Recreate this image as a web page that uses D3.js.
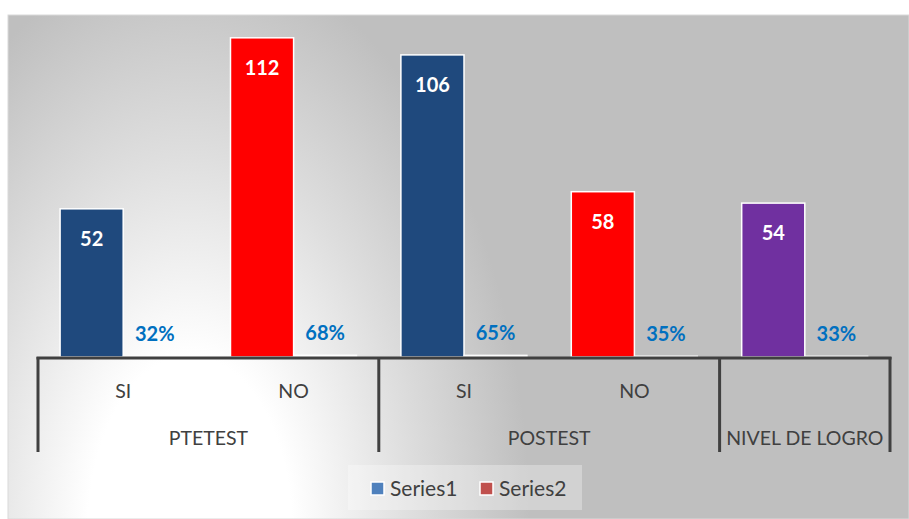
<!DOCTYPE html>
<html>
<head>
<meta charset="utf-8">
<script src="https://cdn.jsdelivr.net/npm/d3@7"></script>
<style>
  body { margin: 0; background: #fff; }
  text { font-family: Lato, "Open Sans", sans-serif; }
</style>
</head>
<body>
<div id="chart"></div>
<script>
'use strict';

// data
var groups = ['PTETEST', 'PTETEST', 'POSTEST', 'POSTEST', 'NIVEL DE LOGRO'];
var categories = ['SI', 'NO', 'SI', 'NO', ''];
var series1 = [52, 112, 106, 58, 54];
var series2 = [0.32, 0.68, 0.65, 0.35, 0.33];
var barColors = ['#1f497d', '#ff0000', '#1f497d', '#ff0000', '#7030a0'];
var seriesNames = ['Series1', 'Series2'];
var legendColors = ['#4f81bd', '#c0504d'];

var W = 909, H = 519;
var svg = d3.select('#chart').append('svg')
  .attr('width', W).attr('height', H);

// background gradient, whitish at the bottom left
var defs = svg.append('defs');
var grad = defs.append('radialGradient')
  .attr('id', 'bg')
  .attr('gradientUnits', 'userSpaceOnUse')
  .attr('cx', 0).attr('cy', 0).attr('r', 1)
  .attr('gradientTransform', 'translate(190,530) scale(340,580)');
grad.append('stop').attr('offset', 0).attr('stop-color', '#ffffff');
grad.append('stop').attr('offset', 0.3).attr('stop-color', '#ffffff');
grad.append('stop').attr('offset', 0.65).attr('stop-color', '#dedede');
grad.append('stop').attr('offset', 1).attr('stop-color', '#bfbfbf');

svg.append('rect')
  .attr('x', 8).attr('y', 15)
  .attr('width', W - 8).attr('height', H - 15)
  .attr('fill', 'url(#bg)')
  .attr('stroke', '#d9d9d9').attr('stroke-width', 1);

var idx = d3.range(categories.length);

var x = d3.scaleBand()
  .domain(idx)
  .range([38, 890])
  .padding(0);

var xs = d3.scaleBand()
  .domain(seriesNames)
  .range([0, x.bandwidth()])
  .paddingInner(0)
  .paddingOuter(0.35);

var y = d3.scaleLinear()
  .domain([0, 120])
  .range([357, 15]);

// series 1 bars
var g1 = svg.append('g');
g1.selectAll('rect')
  .data(idx)
  .join('rect')
  .attr('x', function (i) { return x(i) + xs('Series1'); })
  .attr('y', function (i) { return y(series1[i]); })
  .attr('width', xs.bandwidth())
  .attr('height', function (i) { return y(0) - y(series1[i]); })
  .attr('fill', function (i) { return barColors[i]; })
  .attr('stroke', '#ffffff')
  .attr('stroke-width', 1.5);

g1.selectAll('text')
  .data(idx)
  .join('text')
  .attr('x', function (i) { return x(i) + xs('Series1') + xs.bandwidth() / 2; })
  .attr('y', function (i) { return y(series1[i]) + 37; })
  .attr('text-anchor', 'middle')
  .attr('fill', '#ffffff')
  .attr('font-weight', 'bold')
  .attr('font-size', 20)
  .text(function (i) { return series1[i]; });

// series 2 bars (percentages, almost flat)
var g2 = svg.append('g');
g2.selectAll('rect')
  .data(idx)
  .join('rect')
  .attr('x', function (i) { return x(i) + xs('Series2'); })
  .attr('y', function (i) { return y(series2[i]); })
  .attr('width', xs.bandwidth())
  .attr('height', function (i) { return y(0) - y(series2[i]); })
  .attr('fill', '#ffffff')
  .attr('stroke', '#ffffff')
  .attr('stroke-width', 1);

g2.selectAll('text')
  .data(idx)
  .join('text')
  .attr('x', function (i) { return x(i) + xs('Series2') + xs.bandwidth() / 2; })
  .attr('y', function (i) { return y(series2[i]) - 15; })
  .attr('text-anchor', 'middle')
  .attr('fill', '#0070c0')
  .attr('font-weight', 'bold')
  .attr('font-size', 20)
  .text(function (i) { return Math.round(series2[i] * 100) + '%'; });

// multi level category axis
var axis = svg.append('g')
  .attr('stroke', '#404040')
  .attr('stroke-width', 3)
  .attr('fill', 'none');

axis.append('line')
  .attr('x1', x.range()[0] - 1.5).attr('x2', x.range()[1] + 1.5)
  .attr('y1', y(0) + 1).attr('y2', y(0) + 1);

// group boundaries
var groupNames = [];
groups.forEach(function (g) { if (groupNames.indexOf(g) < 0) groupNames.push(g); });
var groupSpan = groupNames.map(function (g) {
  var members = idx.filter(function (i) { return groups[i] === g; });
  return { name: g, x0: x(members[0]), x1: x(members[members.length - 1]) + x.bandwidth() };
});
var bounds = [groupSpan[0].x0].concat(groupSpan.map(function (d) { return d.x1; }));

axis.selectAll('line.tick')
  .data(bounds)
  .join('line')
  .attr('class', 'tick')
  .attr('x1', function (d) { return d; }).attr('x2', function (d) { return d; })
  .attr('y1', y(0)).attr('y2', 452);

svg.append('g').selectAll('text')
  .data(idx)
  .join('text')
  .attr('x', function (i) { return x(i) + x.bandwidth() / 2; })
  .attr('y', 398)
  .attr('text-anchor', 'middle')
  .attr('fill', '#404040')
  .attr('font-size', 19.5)
  .text(function (i) { return categories[i]; });

svg.append('g').selectAll('text')
  .data(groupSpan)
  .join('text')
  .attr('x', function (d) { return (d.x0 + d.x1) / 2; })
  .attr('y', 445)
  .attr('text-anchor', 'middle')
  .attr('fill', '#404040')
  .attr('font-size', 19.5)
  .text(function (d) { return d.name; });

// legend
var legend = svg.append('g');
legend.append('rect')
  .attr('x', 348).attr('y', 465)
  .attr('width', 234).attr('height', 45)
  .attr('fill', '#ffffff').attr('fill-opacity', 0.3);

var items = legend.selectAll('g.item')
  .data(seriesNames)
  .join('g')
  .attr('class', 'item')
  .attr('transform', function (d, i) { return 'translate(' + (371 + i * 109) + ',482)'; });

items.append('rect')
  .attr('width', 13).attr('height', 13)
  .attr('fill', function (d, i) { return legendColors[i]; })
  .attr('stroke', '#ffffff').attr('stroke-width', 1.5);

items.append('text')
  .attr('x', 19).attr('y', 14)
  .attr('fill', '#404040')
  .attr('font-size', 21)
  .text(function (d) { return d; });
</script>
</body>
</html>
